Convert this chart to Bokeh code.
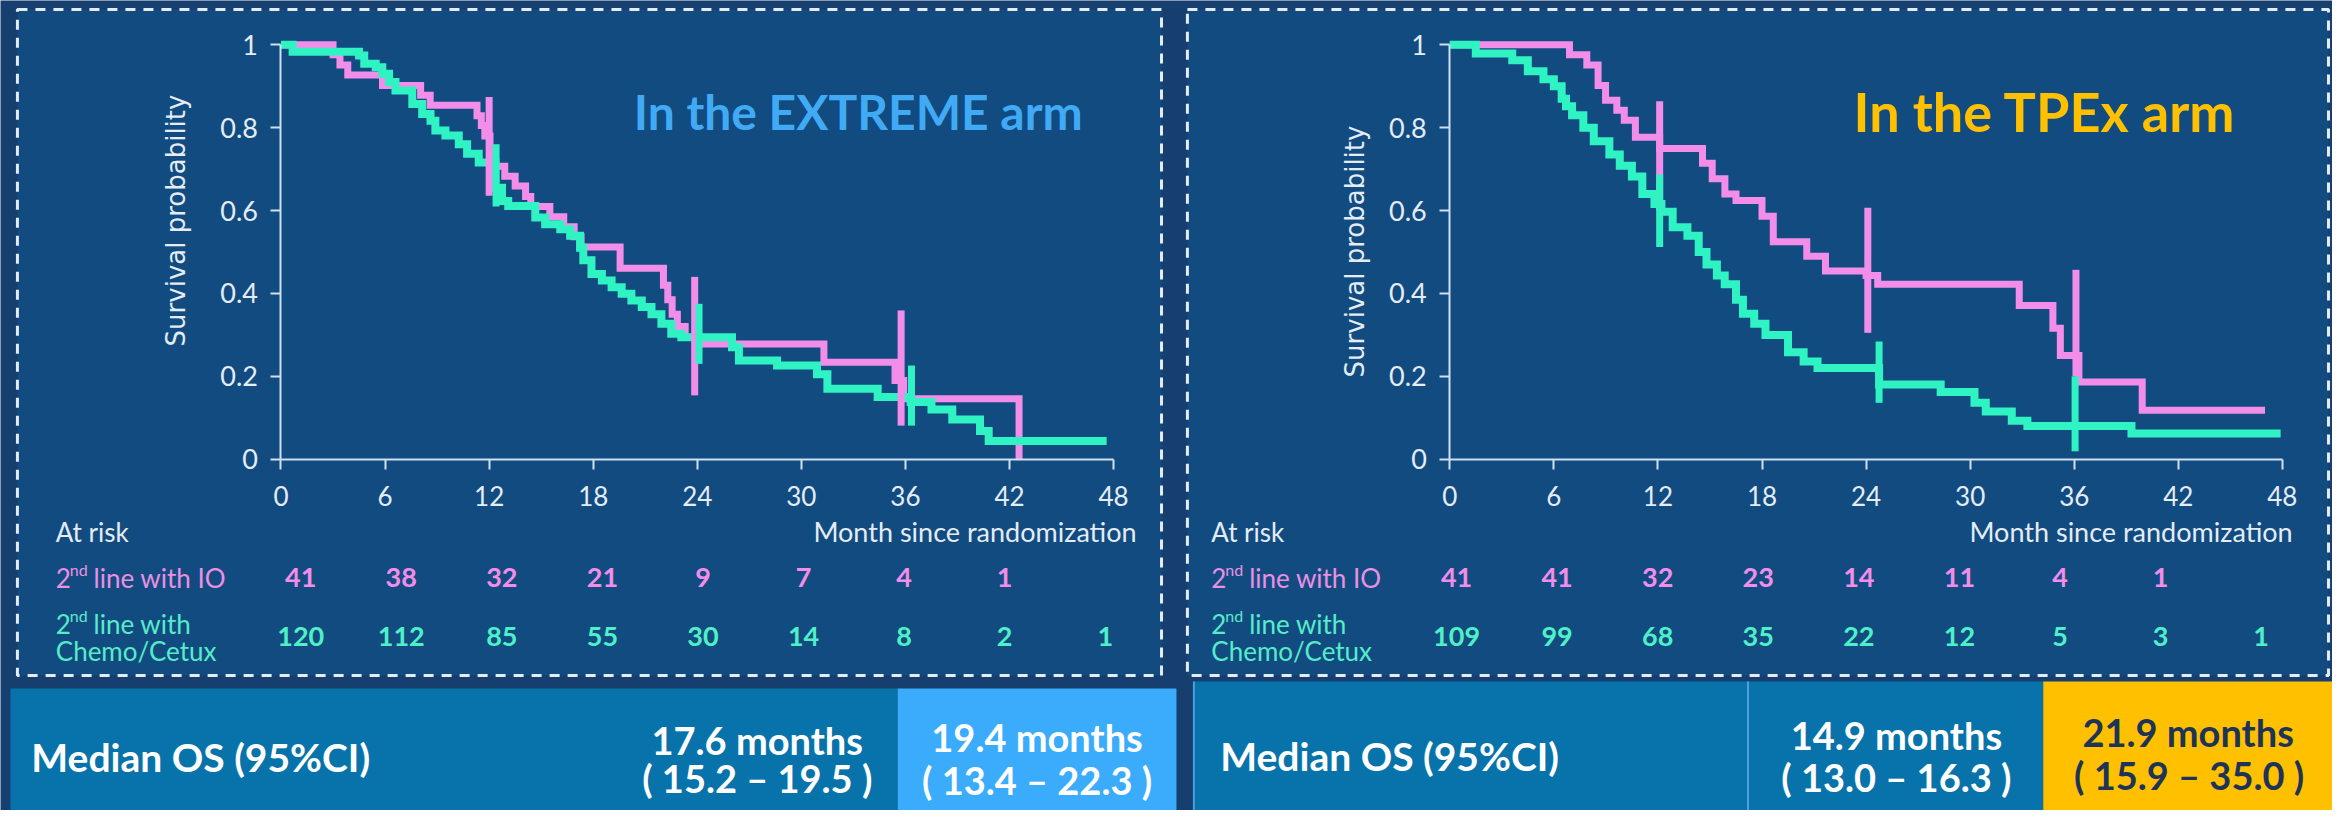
from math import pi
from bokeh.plotting import figure
from bokeh.models import Range1d, LinearAxis, FixedTicker
from bokeh.core.properties import value
from bokeh.embed import file_html
from bokeh.resources import INLINE

# ---------------- data ----------------
MONTH_TICKS = [0, 6, 12, 18, 24, 30, 36, 42, 48]
SURV_TICKS = [0, 0.2, 0.4, 0.6, 0.8, 1]
RISK_TIMES = [0, 6, 12, 18, 24, 30, 36, 42, 48]

# EXTREME arm - 2nd line with IO
ext_io_t = [0, 3.0, 3.4, 3.85, 5.85, 8.05, 8.6, 11.3, 11.55, 11.75, 12.05, 12.35, 12.9, 13.5,
            14.1, 14.4, 15.5, 16.3, 16.9, 17.3, 19.55, 22.05, 22.3, 22.55, 22.85, 23.3, 24.0,
            31.3, 35.4, 35.9, 42.55]
ext_io_s = [1.0, 0.976, 0.951, 0.927, 0.902, 0.878, 0.854, 0.829, 0.805, 0.78, 0.732, 0.707,
            0.683, 0.659, 0.634, 0.61, 0.585, 0.561, 0.537, 0.512, 0.461, 0.42, 0.385, 0.35,
            0.32, 0.294, 0.278, 0.234, 0.19, 0.146, 0.0]
ext_io_end = 42.55
# EXTREME arm - 2nd line with Chemo/Cetux
ext_ch_t = [0, 0.67, 4.5, 4.8, 5.46, 5.84, 6.23, 6.6, 7.57, 8.14, 8.62, 8.9, 9.48, 10.25, 10.73,
            11.4, 12.36, 12.74, 13.1, 14.66, 15.23, 16.1, 16.67, 17.24, 17.43, 17.9, 18.5, 19.06,
            19.64, 20.2, 20.8, 21.36, 21.93, 22.5, 23.08, 26.0, 26.4, 28.6, 30.9, 31.5, 34.4,
            36.3, 37.5, 38.7, 40.3, 40.8]
ext_ch_s = [1.0, 0.983, 0.974, 0.954, 0.946, 0.93, 0.91, 0.89, 0.857, 0.833, 0.817, 0.793,
            0.781, 0.76, 0.737, 0.716, 0.655, 0.623, 0.611, 0.583, 0.567, 0.555, 0.539, 0.51,
            0.48, 0.447, 0.431, 0.415, 0.399, 0.383, 0.367, 0.35, 0.327, 0.303, 0.294, 0.27,
            0.238, 0.226, 0.205, 0.17, 0.15, 0.138, 0.12, 0.096, 0.068, 0.044]
ext_ch_end = 47.6

# TPEx arm - 2nd line with IO
tpx_io_t = [0, 6.9, 7.9, 8.55, 8.98, 9.63, 10.06, 10.7, 12.1, 14.57, 15.13, 15.86, 16.5, 18.0,
            18.65, 20.58, 21.66, 24.0, 24.67, 32.83, 34.77, 35.2, 36.27, 39.92]
tpx_io_s = [1.0, 0.976, 0.951, 0.902, 0.866, 0.842, 0.818, 0.777, 0.75, 0.714, 0.677, 0.64,
            0.624, 0.586, 0.525, 0.49, 0.454, 0.443, 0.422, 0.371, 0.316, 0.25, 0.186, 0.118]
tpx_io_end = 47.0
# TPEx arm - 2nd line with Chemo/Cetux
tpx_ch_t = [0, 1.5, 3.6, 4.5, 5.4, 6.0, 6.45, 6.7, 7.05, 7.7, 8.3, 9.2, 9.8, 10.5, 11.1, 11.8,
            12.2, 12.85, 13.7, 14.35, 14.8, 15.4, 15.85, 16.5, 16.9, 17.55, 18.2, 19.5, 20.4,
            21.2, 24.75, 28.3, 30.25, 30.9, 32.4, 33.3, 39.3]
tpx_ch_s = [1.0, 0.979, 0.963, 0.936, 0.917, 0.9, 0.87, 0.852, 0.83, 0.8, 0.767, 0.735, 0.708,
            0.682, 0.64, 0.616, 0.597, 0.56, 0.539, 0.5, 0.47, 0.443, 0.422, 0.385, 0.351,
            0.327, 0.3, 0.258, 0.236, 0.22, 0.18, 0.162, 0.136, 0.115, 0.093, 0.08, 0.062]
tpx_ch_end = 47.9

# vertical censor / landmark marks (time, low, high)
ext_io_mark_t = [12.0, 23.85, 35.75]
ext_io_mark_lo = [0.636, 0.154, 0.081]
ext_io_mark_hi = [0.874, 0.44, 0.359]
ext_ch_mark_t = [12.4, 24.1, 36.35]
ext_ch_mark_lo = [0.61, 0.23, 0.081]
ext_ch_mark_hi = [0.76, 0.375, 0.226]
tpx_io_mark_t = [12.1, 24.1, 36.1]
tpx_io_mark_lo = [0.6, 0.305, 0.2]
tpx_io_mark_hi = [0.864, 0.607, 0.457]
tpx_ch_mark_t = [12.1, 24.75, 36.05]
tpx_ch_mark_lo = [0.512, 0.136, 0.019]
tpx_ch_mark_hi = [0.687, 0.284, 0.2]

# numbers at risk
ext_risk_io = [41, 38, 32, 21, 9, 7, 4, 1]
ext_risk_ch = [120, 112, 85, 55, 30, 14, 8, 2, 1]
tpx_risk_io = [41, 41, 32, 23, 14, 11, 4, 1]
tpx_risk_ch = [109, 99, 68, 35, 22, 12, 5, 3, 1]

titles = ["In the EXTREME arm", "In the TPEx arm"]
median_label = "Median OS (95%CI)"
ext_medians = ["17.6 months", "19.4 months"]
ext_cis = ["( 15.2 \u2013 19.5 )", "( 13.4 \u2013 22.3 )"]
tpx_medians = ["14.9 months", "21.9 months"]
tpx_cis = ["( 13.0 \u2013 16.3 )", "( 15.9 \u2013 35.0 )"]

# ---------------- layout / style ----------------
W, H = 2332, 810
VX1, VY1 = 2342, 810   # reference pixels shown on the canvas (x slightly squeezed)
PPM = 17.42        # reference px per month
PPU = 414.4        # reference px per survival unit
Y0 = 458.7         # reference px of survival 0
PANEL_X0 = {"L": 281.7, "R": 1455.5}

OUTER = "#163e6f"
PANEL = "#124b80"
BORDER = "#e3ebf5"
PINK = "#f28ee9"
GREEN = "#2ff3c3"
PINK_TXT = "#ea90e3"
GREEN_TXT = "#56ecca"
AXIS = "#cfe0f1"
TXT = "#e4ecf5"
BLUE_BOX = "#0873aa"
LIGHT_BOX = "#3aacfb"
YELLOW = "#ffc000"
NAVY_TXT = "#1d3458"
FONT = value("Lato")

p = figure(width=W, height=H, x_range=Range1d(0, VX1), y_range=Range1d(VY1, 0),
           x_axis_type=None, y_axis_type=None, toolbar_location=None,
           output_backend="svg", min_border=0)
p.background_fill_color = OUTER
p.border_fill_color = OUTER
p.outline_line_color = None

p.extra_x_ranges = {k: Range1d(-x0 / PPM, (VX1 - x0) / PPM) for k, x0 in PANEL_X0.items()}
p.extra_y_ranges = {k: Range1d((Y0 - VY1) / PPU, Y0 / PPU) for k in PANEL_X0}

# panels with dashed frames
p.quad(left=[17, 1192], right=[1166, 2338], top=[9, 9], bottom=[675, 675],
       fill_color=PANEL, line_color=BORDER, line_width=3, line_dash="10 8")

# bottom table boxes
p.quad(left=[10, 901, 1198, 1755, 2051.5], right=[901, 1181, 1755, 2051.5, 2343],
       top=[688, 688, 681, 681, 681], bottom=[826] * 5,
       fill_color=[BLUE_BOX, LIGHT_BOX, BLUE_BOX, BLUE_BOX, YELLOW], line_color=None)
p.segment(x0=[1198.5, 1755], y0=[681, 681], x1=[1198.5, 1755], y1=[826, 826],
          line_color="#4f9fdc", line_width=2)


def km(name, t, s, end, color, width):
    xs = list(t) + [end]
    ys = list(s) + [s[-1]]
    p.step(x=xs, y=ys, mode="after", line_color=color, line_width=width,
           line_join="miter", x_range_name=name, y_range_name=name)


def marks(name, t, lo, hi, color):
    p.segment(x0=t, y0=lo, x1=t, y1=hi, line_color=color, line_width=7,
              x_range_name=name, y_range_name=name)


def axes(name):
    xa = LinearAxis(x_range_name=name, y_range_name=name, fixed_location=0, bounds=(0, 48),
                    ticker=FixedTicker(ticks=MONTH_TICKS))
    ya = LinearAxis(x_range_name=name, y_range_name=name, fixed_location=0, bounds=(0, 1),
                    ticker=FixedTicker(ticks=SURV_TICKS),
                    major_label_overrides={0: "0", 1: "1"})
    for ax, fs, so in ((xa, "26px", 17), (ya, "27px", 13)):
        ax.axis_line_color = AXIS
        ax.axis_line_width = 2
        ax.major_tick_line_color = AXIS
        ax.major_tick_line_width = 2
        ax.major_tick_out = 10
        ax.major_tick_in = 0
        ax.minor_tick_line_color = None
        ax.major_label_text_color = TXT
        ax.major_label_text_font = "Lato"
        ax.major_label_text_font_size = fs
        ax.major_label_standoff = so
    p.add_layout(xa, "below")
    p.add_layout(ya, "left")


axes("L")
axes("R")

km("L", ext_io_t, ext_io_s, ext_io_end, PINK, 7)
km("L", ext_ch_t, ext_ch_s, ext_ch_end, GREEN, 8)
marks("L", ext_io_mark_t, ext_io_mark_lo, ext_io_mark_hi, PINK)
marks("L", ext_ch_mark_t, ext_ch_mark_lo, ext_ch_mark_hi, GREEN)

km("R", tpx_io_t, tpx_io_s, tpx_io_end, PINK, 7)
km("R", tpx_ch_t, tpx_ch_s, tpx_ch_end, GREEN, 8)
marks("R", tpx_io_mark_t, tpx_io_mark_lo, tpx_io_mark_hi, PINK)
marks("R", tpx_ch_mark_t, tpx_ch_mark_lo, tpx_ch_mark_hi, GREEN)

# y-axis titles (rotated, placed in each panel's own data space)
for name, cx, cy in (("L", 176, 220), ("R", 1360, 251)):
    x0 = PANEL_X0[name]
    p.text(x=[(cx - x0) / PPM], y=[(Y0 - cy) / PPU], text=["Survival probability"],
           angle=pi / 2, text_font=value("DejaVu Sans"), text_font_size="26px",
           text_color=TXT, text_align="center", text_baseline="middle",
           x_range_name=name, y_range_name=name)

# titles
p.text(x=[636], y=[111], text=[titles[0]], text_font=FONT, text_font_style="bold",
       text_font_size="48px", text_color="#40aaf5", text_baseline="alphabetic")
p.text(x=[1861], y=[111], text=[titles[1]], text_font=FONT, text_font_style="bold",
       text_font_size="54px", text_color=YELLOW, text_baseline="alphabetic")


def def_text(x, y, text, size, color, align="left", bold=False):
    p.text(x=x, y=y, text=text, text_font=FONT, text_font_size=size, text_color=color,
           text_align=align, text_baseline="middle",
           text_font_style="bold" if bold else "normal")


# at-risk tables
for lx, rx_end, rx0, risk_io, risk_ch in ((55.5, 1141, 301.5, ext_risk_io, ext_risk_ch),
                                          (1216, 2302, 1462.3, tpx_risk_io, tpx_risk_ch)):
    def_text([lx], [531], ["At risk"], "26px", TXT)
    def_text([rx_end], [531], ["Month since randomization"], "27px", TXT, align="right")
    # "2nd line with IO"
    def_text([lx], [577], ["2"], "26px", PINK_TXT)
    def_text([lx + 14], [569], ["nd"], "16px", PINK_TXT)
    def_text([lx + 38], [577], ["line with IO"], "26px", PINK_TXT)
    # "2nd line with / Chemo/Cetux"
    def_text([lx], [623], ["2"], "26px", GREEN_TXT)
    def_text([lx + 14], [615], ["nd"], "16px", GREEN_TXT)
    def_text([lx + 38], [623], ["line with"], "26px", GREEN_TXT)
    def_text([lx], [650], ["Chemo/Cetux"], "26px", GREEN_TXT)
    step = 101.0
    def_text([rx0 + t / 6 * step for t in RISK_TIMES[:len(risk_io)]], [577] * len(risk_io),
             [str(v) for v in risk_io], "27px", PINK, align="center", bold=True)
    def_text([rx0 + t / 6 * step for t in RISK_TIMES[:len(risk_ch)]], [636] * len(risk_ch),
             [str(v) for v in risk_ch], "27px", "#4ff0c8", align="center", bold=True)

# median OS table
def_text([31, 1225], [756, 755], [median_label, median_label], "39px", "white", bold=True)
def_text([760, 1041, 1904], [739, 736, 734], [ext_medians[0], ext_medians[1], tpx_medians[0]],
         "38px", "white", align="center", bold=True)
def_text([760, 1041, 1904], [777, 779, 776], [ext_cis[0], ext_cis[1], tpx_cis[0]],
         "38px", "white", align="center", bold=True)
def_text([2197], [731], [tpx_medians[1]], "38px", NAVY_TXT, align="center", bold=True)
def_text([2198], [774], [tpx_cis[1]], "38px", NAVY_TXT, align="center", bold=True)

open("out.html", "w").write(file_html(p, INLINE, title="Median OS by second-line treatment"))
